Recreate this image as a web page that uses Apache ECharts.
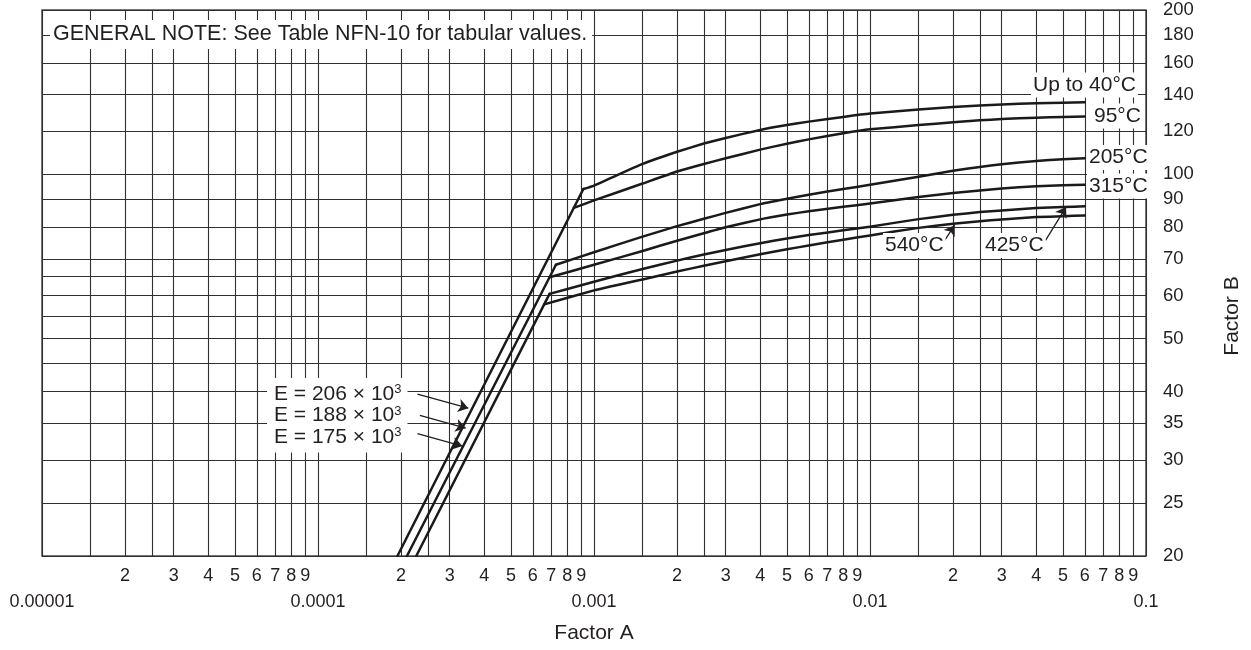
<!DOCTYPE html>
<html>
<head>
<meta charset="utf-8">
<script src="https://cdn.jsdelivr.net/npm/echarts@6/dist/echarts.min.js"></script>
<style>html,body{margin:0;padding:0;background:#fff}#chart{width:1251px;height:650px}</style>
</head>
<body>
<div id="chart"></div>
<script>
// ---- axis scaffolding values ----
const X_DECADES = [0.00001, 0.0001, 0.001, 0.01, 0.1];
const X_GRID_STEPS = [1, 1.5, 2, 2.5, 3, 4, 5, 6, 7, 8, 9];
const X_LABEL_DIGITS = [2, 3, 4, 5, 6, 7, 8, 9];
const Y_GRID = [20, 25, 30, 35, 40, 45, 50, 55, 60, 65, 70, 80, 90, 100, 120, 140, 160, 180, 200];
const Y_LABELS = [20, 25, 30, 35, 40, 50, 60, 70, 80, 90, 100, 120, 140, 160, 180, 200];

// ---- curve values (Factor A, Factor B) ----
const CURVE_NAMES = ['Up to 40°C', '95°C', '205°C', '315°C', '425°C', '540°C'];
const KNEE_A = [0.000915, 0.000845, 0.000728, 0.00069, 0.00069, 0.00066];
const KNEE_B = [94.0, 86.8, 68.3, 64.8, 60.4, 57.8];
const A_COMMON = [0.001, 0.0015, 0.002, 0.0025, 0.003, 0.004, 0.005, 0.006, 0.008, 0.01, 0.015, 0.02, 0.025, 0.03, 0.04, 0.05, 0.06];
const B_UP_TO_40 = [95.4, 104.5, 110.0, 113.9, 116.6, 120.6, 123.1, 124.9, 127.4, 129.2, 131.4, 132.8, 133.7, 134.3, 135.0, 135.3, 135.5];
const B_95 = [89.6, 96.2, 101.2, 104.5, 107.0, 111.0, 113.8, 115.9, 118.9, 120.9, 123.1, 124.6, 125.6, 126.3, 127.0, 127.4, 127.6];
const B_205 = [72.0, 76.9, 80.4, 82.9, 85.0, 88.2, 90.2, 91.8, 94.0, 95.7, 99.0, 101.5, 103.2, 104.4, 105.8, 106.6, 107.0];
const B_315 = [68.3, 72.4, 75.6, 78.0, 80.0, 82.7, 84.4, 85.6, 87.2, 88.4, 90.9, 92.4, 93.4, 94.2, 95.1, 95.5, 95.7];
const B_425 = [63.6, 67.1, 69.5, 71.3, 72.7, 74.8, 76.3, 77.4, 79.0, 80.2, 82.8, 84.3, 85.3, 85.9, 86.8, 87.1, 87.4];
const B_540 = [61.3, 64.2, 66.4, 68.0, 69.3, 71.4, 72.9, 74.1, 75.9, 77.3, 79.8, 81.2, 82.1, 82.7, 83.5, 83.8, 84.1];

// ---- elastic lines B = E*A/2 (bottom point at B = 20, top at a knee) ----
const E_NAMES = ['E = 206 × 10³', 'E = 188 × 10³', 'E = 175 × 10³'];
const E_BOTTOM_A = [0.000194, 0.00021, 0.000227];
const E_BOTTOM_B = [20, 20, 20];
const E_TOP_KNEE = [0, 2, 4]; // index into KNEE arrays

// ---- annotation arrows (tail and tip, in Factor A / Factor B units) ----
const ARROW_TAIL_A = [0.0002293, 0.0002339, 0.0002293, 0.01839, 0.04325];
const ARROW_TAIL_B = [39.6, 36.2, 33.5, 74.9, 75.7];
const ARROW_TIP_A = [0.0003505, 0.000343, 0.0003335, 0.02027, 0.05133];
const ARROW_TIP_B = [37.3, 34.3, 31.8, 80.7, 87.1];

const FONT = 'Liberation Sans, Arial, Helvetica, sans-serif';
const INK = '#231f20';
const GRIDC = '#303030';

const log10 = Math.log10;
const xGridExp = [];
X_DECADES.slice(0, 4).forEach(d => X_GRID_STEPS.forEach(s => xGridExp.push(log10(d * s))));
xGridExp.push(log10(X_DECADES[4]));
const xDigitExp = [];
X_DECADES.slice(0, 4).forEach(d => X_LABEL_DIGITS.forEach(s => xDigitExp.push(log10(d * s))));
const yGridExp = Y_GRID.map(v => log10(v));
const yLabelExp = Y_LABELS.map(v => log10(v));

const curveB = [B_UP_TO_40, B_95, B_205, B_315, B_425, B_540];
const lineStyle = { color: '#1a1a1a', width: 2.5, cap: 'round', join: 'round' };

const series = [];
E_NAMES.forEach((n, i) => {
  const k = E_TOP_KNEE[i];
  series.push({
    name: n, type: 'line', xAxisIndex: 0, yAxisIndex: 0, symbol: 'none', z: 3,
    lineStyle, silent: true,
    data: [[E_BOTTOM_A[i], E_BOTTOM_B[i]], [KNEE_A[k], KNEE_B[k]]]
  });
});
CURVE_NAMES.forEach((n, i) => {
  series.push({
    name: n, type: 'line', xAxisIndex: 0, yAxisIndex: 0, symbol: 'none', z: 3,
    smooth: 0.12, lineStyle, silent: true,
    data: [[KNEE_A[i], KNEE_B[i]]].concat(A_COMMON.map((a, j) => [a, curveB[i][j]]))
  });
});
series.push({
  name: 'arrows', type: 'line', xAxisIndex: 0, yAxisIndex: 0, symbol: 'none', data: [], silent: true,
  markLine: {
    silent: true, symbol: ['none', 'arrow'], symbolSize: 10, animation: false,
    label: { show: false },
    lineStyle: { color: INK, width: 1.3, type: 'solid' },
    emphasis: { disabled: true },
    data: ARROW_TAIL_A.map((a, i) => [
      { coord: [a, ARROW_TAIL_B[i]] },
      { coord: [ARROW_TIP_A[i], ARROW_TIP_B[i]] }
    ])
  }
});

function boxText(text, x, y, font, padding) {
  return {
    type: 'text', x: x, y: y, z: 10, silent: true,
    style: {
      text: text, font: font || ('21px ' + FONT), fill: INK,
      align: 'left', verticalAlign: 'middle',
      backgroundColor: '#fff', padding: padding || [2, 2, 2, 2]
    }
  };
}

const eRich = E_NAMES.map(t => '{n|' + t.replace('³', '') + '}{s|3}').join('\n');

const graphic = [
  boxText('GENERAL NOTE: See Table NFN-10 for tabular values.', 50, 34.5, '21.5px ' + FONT, [4, 5, 3, 3]),
  boxText(CURVE_NAMES[0], 1031, 85),
  boxText(CURVE_NAMES[1], 1092, 116),
  boxText(CURVE_NAMES[2], 1087, 157.5),
  boxText(CURVE_NAMES[3], 1087, 186),
  boxText(CURVE_NAMES[5], 883, 245.5),
  boxText(CURVE_NAMES[4], 983, 245.5),
  {
    type: 'text', x: 267, y: 378, z: 10, silent: true,
    style: {
      text: eRich, align: 'left', verticalAlign: 'top',
      backgroundColor: '#fff', padding: [5, 6, 5, 7],
      rich: {
        n: { font: '21px ' + FONT, fill: INK, lineHeight: 21.5 },
        s: { font: '13px ' + FONT, fill: INK, lineHeight: 13, verticalAlign: 'top' }
      }
    }
  }
];

const chart = echarts.init(document.getElementById('chart'), null, { renderer: 'canvas' });
chart.setOption({
  animation: false,
  backgroundColor: '#fff',
  grid: { left: 42, right: 103, top: 10, bottom: 94, show: true, borderColor: '#4a4a4a', borderWidth: 1.5, backgroundColor: '#fff' },
  xAxis: [
    { type: 'log', logBase: 10, min: X_DECADES[0], max: X_DECADES[4], show: false, position: 'bottom' },
    {
      type: 'value', min: log10(X_DECADES[0]), max: log10(X_DECADES[4]), position: 'bottom',
      axisLine: { show: false },
      axisTick: { show: false, customValues: xGridExp },
      splitLine: { show: true, lineStyle: { color: GRIDC, width: 1.1 } },
      axisLabel: {
        customValues: xDigitExp, margin: 11, color: INK, fontSize: 18, fontFamily: FONT,
        formatter: v => String(Math.round(Math.pow(10, v - Math.floor(v + 1e-9))))
      }
    },
    {
      type: 'value', min: log10(X_DECADES[0]), max: log10(X_DECADES[4]), interval: 1, position: 'bottom',
      axisLine: { show: false }, axisTick: { show: false }, splitLine: { show: false },
      axisLabel: {
        margin: 37, color: INK, fontSize: 18, fontFamily: FONT,
        formatter: v => String(Number(Math.pow(10, v).toPrecision(1)))
      },
      name: 'Factor A', nameLocation: 'middle', nameGap: 67,
      nameTextStyle: { color: INK, fontSize: 21, fontFamily: FONT }
    }
  ],
  yAxis: [
    { type: 'log', logBase: 10, min: Y_GRID[0], max: Y_GRID[Y_GRID.length - 1], show: false, position: 'right' },
    {
      type: 'value', min: log10(Y_GRID[0]), max: log10(Y_GRID[Y_GRID.length - 1]), position: 'right',
      axisLine: { show: false },
      axisTick: { show: false, customValues: yGridExp },
      splitLine: { show: true, lineStyle: { color: GRIDC, width: 1.1 } },
      axisLabel: {
        customValues: yLabelExp, margin: 17, color: INK, fontSize: 18.5, fontFamily: FONT, align: 'left',
        formatter: v => String(Math.round(Math.pow(10, v)))
      },
      name: 'Factor B', nameLocation: 'middle', nameGap: 76, nameRotate: 90,
      nameTextStyle: { color: INK, fontSize: 21, fontFamily: FONT, padding: [0, 66, 0, 0] }
    }
  ],
  series: series,
  graphic: graphic
});
</script>
</body>
</html>
